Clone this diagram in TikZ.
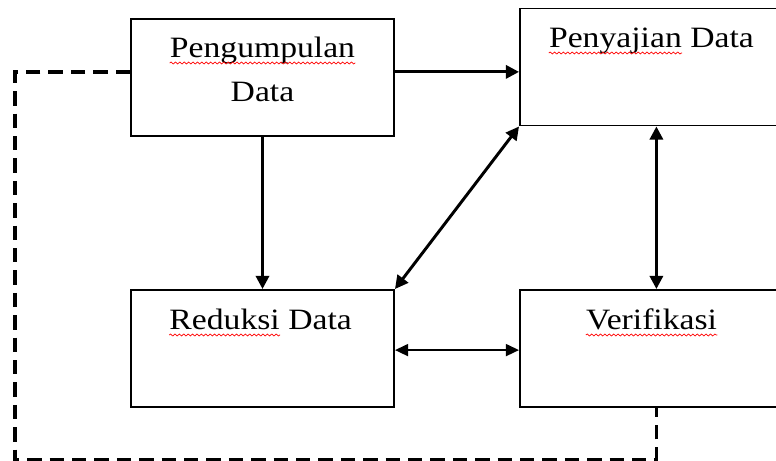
\documentclass[tikz,border=0pt]{standalone}
\usepackage{fontspec}
\setmainfont[FakeStretch=1.14]{Liberation Serif}
\usetikzlibrary{arrows.meta,decorations.pathmorphing}

\begin{document}
\begin{tikzpicture}[
    box/.style={draw,line width=1.4pt,minimum width=6.575cm,minimum height=2.925cm,inner sep=0pt},
    word/.style={inner sep=0pt,font=\fontsize{21}{25}\selectfont},
    arr/.style={line width=2.1pt,-{Triangle[length=0.33cm,width=0.33cm]}},
    darr/.style={line width=2.1pt,{Triangle[length=0.33cm,width=0.33cm]}-{Triangle[length=0.33cm,width=0.33cm]}},
    thinarr/.style={line width=1.4pt,{Triangle[length=0.33cm,width=0.3cm]}-{Triangle[length=0.33cm,width=0.3cm]}},
    fbdash/.style={line width=2.3pt,dash pattern=on 0.36cm off 0.2cm},
    squig/.style={red,line width=0.5pt,decorate,decoration={snake,amplitude=0.025cm,segment length=0.11cm}}
]
    \useasboundingbox (0,0) rectangle (19.4,11.525);

%draw boxes
    \node[box] (pen) at (6.5625,9.5875) {};
    \node[box] (saji) at (16.2875,9.85) {};
    \node[box] (red) at (6.5625,2.8125) {};
    \node[box] (ver) at (16.2875,2.8125) {};

%draw texts
    \node[word,anchor=base] (penA) at (6.5625,10.075) {Pengumpulan};
    \node[word,anchor=base] (penB) at (6.5625,8.975) {Data};
    \node[word,anchor=base west] (sajiA) at (13.72,10.325) {Penyajian};
    \node[word,anchor=base west,xshift=0.2cm] (sajiB) at (sajiA.base east) {Data};
    \node[word,anchor=base west] (redA) at (4.23,3.275) {Reduksi};
    \node[word,anchor=base west,xshift=0.2cm] (redB) at (redA.base east) {Data};
    \node[word,anchor=base] (verA) at (16.29,3.275) {Verifikasi};

%spell check squiggles
    \foreach \w in {penA,sajiA,redA,verA}
    \draw[squig] ([yshift=-0.125cm]\w.base west) -- ([yshift=-0.125cm]\w.base east);

%draw arrows
    \coordinate (fbB) at (0.375,0.03);
    \coordinate (fbC) at (16.41,0.03);
    \draw[arr] ([yshift=0.14cm]pen.east) -- ([yshift=0.14cm]pen.east -| saji.west);
    \draw[arr] (pen.south) -- (red.north);
    \draw[darr] (red.north east) -- (saji.south west);
    \draw[darr] (fbC |- saji.south) -- (fbC |- ver.north);
    \draw[thinarr] ([yshift=-0.04cm]red.east) -- ([yshift=-0.04cm]red.east -| ver.west);

%draw dashed feedback line
    \draw[fbdash] ([yshift=0.14cm]pen.west) -| (fbB) -- (fbC) -- (fbC |- ver.south);
\end{tikzpicture}
\end{document}
